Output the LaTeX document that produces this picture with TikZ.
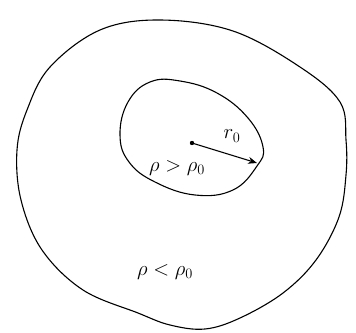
\documentclass[tikz,border=0pt]{standalone}
\usetikzlibrary{arrows.meta}
\begin{document}
\begin{tikzpicture}[x=1pt,y=-1pt,
  curve/.style={line width=1.1pt, line join=round},
  lbl/.style={inner sep=0pt, font=\fontsize{22}{26}\selectfont}]
\useasboundingbox (0,0) rectangle (356,332);
% outer boundary
\draw[curve] plot[smooth cycle, tension=0.6] coordinates {
 (160,20) (233,31) (300,67) (340,102) (346,140) (346,175) (339,217)
 (316,260) (283,293) (240,318) (205,329) (170,325) (138,313)
 (83,290) (42,250) (21,200) (17,150) (27,110) (50,67) (100,30)};
% inner boundary
\draw[curve] plot[smooth cycle, tension=0.7] coordinates {
 (150,82) (180,81) (217,93) (248,118) (263,147) (257,166)
 (233,190) (195,195) (155,182) (129,162) (120,135) (128,102)};
\coordinate (c) at (192,143);
\coordinate (e) at (257,163);
\fill (c) circle (2.2pt);
\draw[line width=1.1pt,-{Stealth[length=9pt,width=7pt]}] (c) -- (e);
\node[lbl] (r) at (232,136) {$r_0$};
\node[lbl] (in) at (177,168) {$\rho>\rho_0$};
\node[lbl] (out) at (165,272) {$\rho<\rho_0$};
\end{tikzpicture}
\end{document}
